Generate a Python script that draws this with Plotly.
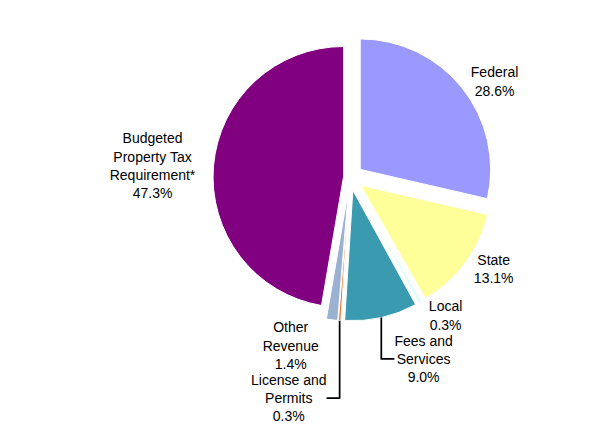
import plotly.graph_objects as go

categories = ["Federal", "State", "Local", "Fees and<br>Services",
              "License and<br>Permits", "Other<br>Revenue",
              "Budgeted<br>Property Tax<br>Requirement*"]
shares = [28.6, 13.1, 0.3, 9.0, 0.3, 1.4, 47.3]
colors = ["#9999FF", "#FFFF99", "#CCFFFF", "#3A9BB0", "#E07B30", "#9BB1D2", "#800080"]
pulls = [0.1, 0.1, 0.1, 0.1, 0.1, 0.1, 0.05]

fig = go.Figure(go.Pie(
    labels=categories,
    values=shares,
    sort=False,
    direction="clockwise",
    rotation=0,
    pull=pulls,
    marker=dict(colors=colors, line=dict(color="white", width=1)),
    texttemplate="%{label}<br>%{value:.1f}%",
    textposition="outside",
    textfont=dict(family="Liberation Sans, Arial, sans-serif", size=14, color="black"),
    showlegend=False,
    hoverinfo="label+value",
))
fig.update_layout(
    width=613, height=447,
    margin=dict(l=5, r=5, t=5, b=5),
    paper_bgcolor="white",
    plot_bgcolor="white",
)
fig.write_html("out.html")
